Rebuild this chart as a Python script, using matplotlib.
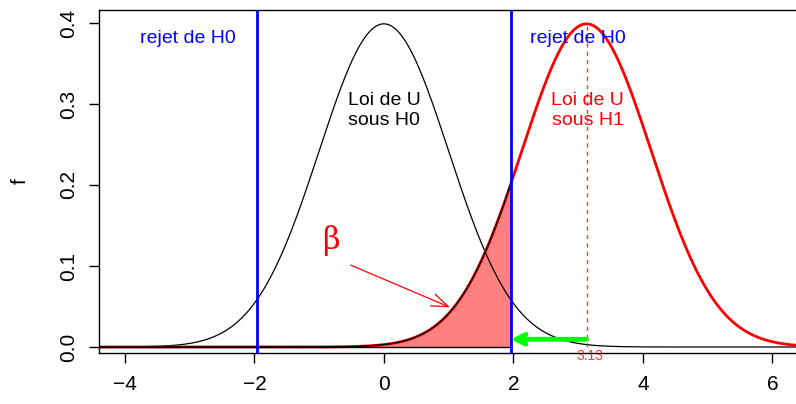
import numpy as np
import matplotlib
matplotlib.use("Agg")
import matplotlib.pyplot as plt

plt.rcParams['font.family'] = ['Liberation Sans', 'DejaVu Sans']

# parameters of the chart
mu_h0 = 0.0
mu_h1 = 3.13
sigma = 1.0
crit = 1.96
x_ticks = [-4, -2, 0, 2, 4, 6]
y_ticks = [0.0, 0.1, 0.2, 0.3, 0.4]
y_ticklabels = ["0.0", "0.1", "0.2", "0.3", "0.4"]

def dnorm(x, m, s):
    return np.exp(-0.5 * ((x - m) / s) ** 2) / (s * np.sqrt(2 * np.pi))

x = np.linspace(-4.5, 6.5, 1200)
f0 = dnorm(x, mu_h0, sigma)
f1 = dnorm(x, mu_h1, sigma)

fig = plt.figure(figsize=(7.96, 4.04), dpi=100)
ax = fig.add_axes([99/796, 51/404, 1 - 99/796 + 0.002, 343/404])
ax.set_xlim(-4.40, 6.39)
ax.set_ylim(-0.0074, 0.416)

# beta area
mask = x <= crit
ax.fill_between(x[mask], 0, f1[mask], color='#FF8080', lw=0, zorder=1)
ax.plot(x[mask], f1[mask], color='black', lw=1.0, zorder=3)
ax.plot([x[0], crit], [0, 0], color='black', lw=1.0, zorder=3)

ax.plot(x, f0, color='black', lw=0.9, zorder=2)
ax.plot(x, f1, color='red', lw=2.0, zorder=2)

ax.axvline(-crit, color='blue', lw=2, zorder=4)
ax.axvline(crit, color='blue', lw=2, zorder=4)
ax.plot([mu_h1, mu_h1], [0, dnorm(mu_h1, mu_h1, sigma)], color='red', lw=1,
        ls=(0, (3, 3)), alpha=0.8, zorder=2)

fs = 14
ax.text(-3.03, 0.381, "rejet de H0", color='blue', fontsize=fs, ha='center', va='center')
ax.text(3.0, 0.381, "rejet de H0", color='blue', fontsize=fs, ha='center', va='center')
ax.text(0.0, 0.292, "Loi de U\nsous H0", color='black', fontsize=fs, ha='center',
        va='center', linespacing=1.2)
ax.text(3.15, 0.292, "Loi de U\nsous H1", color='red', fontsize=fs, ha='center',
        va='center', linespacing=1.2)
ax.text(-0.82, 0.132, "β", color='red', fontsize=22, ha='center', va='center',
        family=['DejaVu Serif'])
ax.text(mu_h1 + 0.05, -0.0105, "%.2f" % mu_h1, color='red', fontsize=10, ha='center',
        va='center', alpha=0.8)

ax.annotate("", xy=(1.02, 0.049), xytext=(-0.51, 0.101),
            arrowprops=dict(arrowstyle='->,head_length=1.2,head_width=0.45',
                            color='red', lw=0.9, shrinkA=0, shrinkB=0))
ax.annotate("", xy=(crit, 0.0095), xytext=(mu_h1, 0.0095),
            arrowprops=dict(arrowstyle='->,head_length=0.7,head_width=0.35',
                            color='#00FF00', lw=3.5, shrinkA=0, shrinkB=0))

ax.set_xticks(x_ticks)
ax.set_xticklabels(["\u2212%d" % -v if v < 0 else str(v) for v in x_ticks])
ax.set_yticks(y_ticks)
ax.set_yticklabels(y_ticklabels, rotation=90, va='center')
ax.tick_params(axis='both', direction='out', length=7, width=1, labelsize=15)
ax.tick_params(axis='x', pad=9)
ax.tick_params(axis='y', pad=8)
ax.spines['right'].set_visible(False)
for s in ['left', 'top', 'bottom']:
    ax.spines[s].set_linewidth(1)
ax.set_ylabel("f", fontsize=15, labelpad=21)

fig.savefig("out.png", dpi=100)
